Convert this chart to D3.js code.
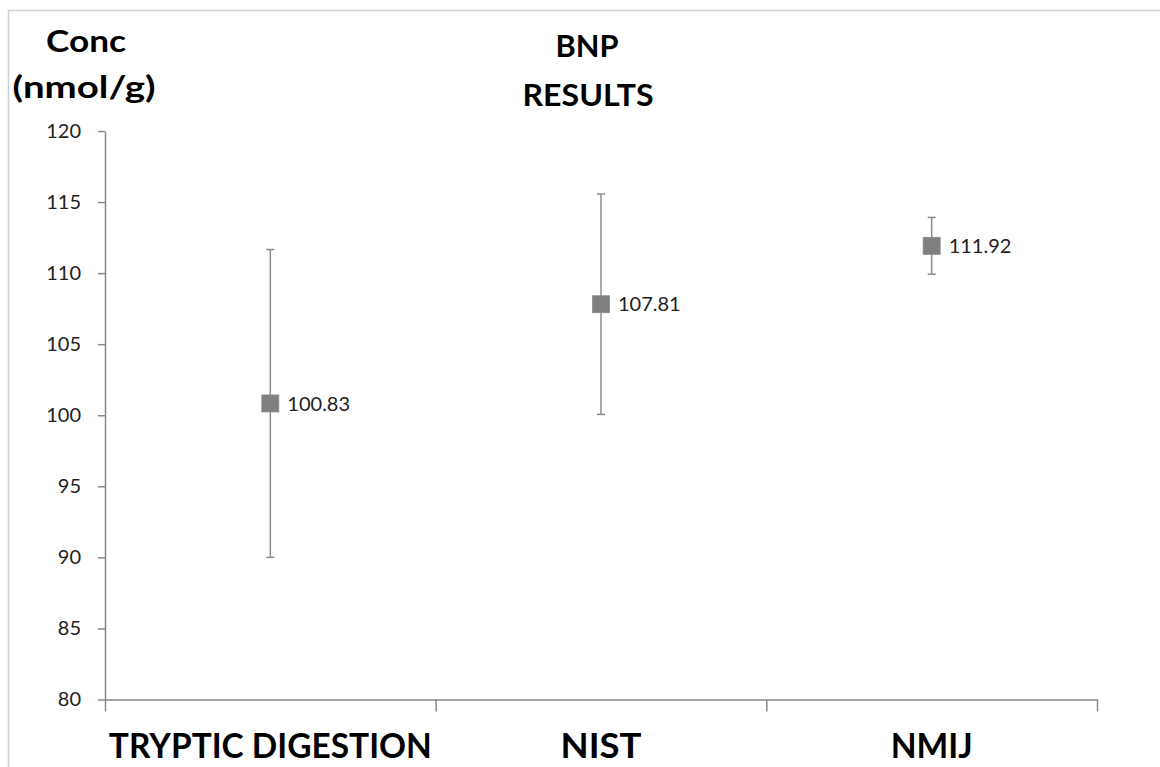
<!DOCTYPE html>
<html>
<head>
<meta charset="utf-8">
<script src="https://cdn.jsdelivr.net/npm/d3@7"></script>
<style>
  body { margin: 0; background: #fff; }
  svg { display: block; font-family: Lato, "Open Sans", sans-serif; }
</style>
</head>
<body>
<div class="container"></div>
<script>
var categories = ["TRYPTIC DIGESTION", "NIST", "NMIJ"],
    means = [100.83, 107.81, 111.92],
    errors = [10.83, 7.75, 2.0],
    yTicks = [80, 85, 90, 95, 100, 105, 110, 115, 120];

var width = 1160,
    height = 767,
    margin = {top: 131, left: 105, right: 63, bottom: 67};

var svg = d3.select("div.container").append("svg")
    .attr("width", width)
    .attr("height", height);

// chart area frame (only top & left edges show)
svg.append("rect")
    .attr("x", 8.5).attr("y", 10.5)
    .attr("width", width + 20).attr("height", height + 20)
    .attr("fill", "none")
    .attr("stroke", "#d0d0d0")
    .attr("stroke-width", 1.5);

var y = d3.scaleLinear()
    .domain([80, 120])
    .range([height - margin.bottom - 0.5, margin.top]);

var x = d3.scaleBand()
    .domain(categories)
    .range([margin.left, width - margin.right]);

var xEdges = d3.scaleLinear()
    .domain([0, categories.length])
    .range([margin.left, width - margin.right]);

// y axis
var yAxis = svg.append("g")
    .attr("transform", "translate(" + margin.left + ",0)")
    .call(d3.axisLeft(y).tickValues(yTicks).tickSize(7).tickPadding(17).tickSizeOuter(0));
yAxis.select(".domain").attr("stroke", "#888").attr("stroke-width", 1.5);
yAxis.selectAll(".tick line").attr("stroke", "#888").attr("stroke-width", 1.5);
yAxis.selectAll(".tick text")
    .attr("fill", "#222")
    .style("font-size", "20px")
    .style("font-family", "Lato, sans-serif");

// x axis, ticks between categories
var xAxis = svg.append("g")
    .attr("transform", "translate(0," + y(80) + ")")
    .call(d3.axisBottom(xEdges).tickValues(d3.range(categories.length + 1)).tickFormat("").tickSize(12).tickSizeOuter(0));
xAxis.select(".domain").attr("stroke", "#888").attr("stroke-width", 1.5);
xAxis.selectAll(".tick line").attr("stroke", "#888").attr("stroke-width", 1.5);

var catWidths = [323, 81, 82];
svg.selectAll(".cat-label")
    .data(categories)
    .enter().append("text")
    .attr("class", "cat-label")
    .attr("x", function(d) { return x(d) + x.bandwidth() / 2; })
    .attr("y", 758)
    .attr("text-anchor", "middle")
    .attr("textLength", function(d, i) { return catWidths[i]; })
    .attr("lengthAdjust", "spacingAndGlyphs")
    .style("font-size", "34px")
    .style("font-weight", "bold")
    .attr("fill", "#000")
    .text(function(d) { return d; });

// error bars
var pts = categories.map(function(c, i) {
    return {cat: c, mean: means[i], err: errors[i]};
});

var bars = svg.selectAll(".errbar")
    .data(pts)
    .enter().append("g")
    .attr("class", "errbar")
    .attr("stroke", "#8c8c8c")
    .attr("stroke-width", 1.5);

bars.append("line")
    .attr("x1", function(d) { return x(d.cat) + x.bandwidth() / 2; })
    .attr("x2", function(d) { return x(d.cat) + x.bandwidth() / 2; })
    .attr("y1", function(d) { return y(d.mean + d.err); })
    .attr("y2", function(d) { return y(d.mean - d.err); });

[1, -1].forEach(function(s) {
    bars.append("line")
        .attr("x1", function(d) { return x(d.cat) + x.bandwidth() / 2 - 4; })
        .attr("x2", function(d) { return x(d.cat) + x.bandwidth() / 2 + 4; })
        .attr("y1", function(d) { return y(d.mean + s * d.err); })
        .attr("y2", function(d) { return y(d.mean + s * d.err); });
});

// markers
svg.selectAll(".marker")
    .data(pts)
    .enter().append("rect")
    .attr("class", "marker")
    .attr("x", function(d) { return x(d.cat) + x.bandwidth() / 2 - 8.5; })
    .attr("y", function(d) { return y(d.mean) - 8.5; })
    .attr("width", 17)
    .attr("height", 17)
    .attr("fill", "#7f7f7f")
    .attr("stroke", "#8a8a8a")
    .attr("stroke-width", 0.8);

svg.selectAll(".val-label")
    .data(pts)
    .enter().append("text")
    .attr("class", "val-label")
    .attr("x", function(d) { return x(d.cat) + x.bandwidth() / 2 + 17; })
    .attr("y", function(d) { return y(d.mean); })
    .attr("dy", "0.36em")
    .style("font-size", "20px")
    .attr("fill", "#222")
    .text(function(d) { return d3.format(".2f")(d.mean); });

// titles
function title(txt, cx, by, len) {
    svg.append("text")
        .attr("x", cx).attr("y", by)
        .attr("text-anchor", "middle")
        .attr("textLength", len)
        .attr("lengthAdjust", "spacingAndGlyphs")
        .style("font-size", "30px")
        .style("font-weight", "bold")
        .attr("fill", "#000")
        .text(txt);
}
title("Conc", 86, 52, 80);
title("(nmol/g)", 84, 98, 143);
title("BNP", 587, 57, 63);
title("RESULTS", 588, 106, 131);
</script>
</body>
</html>
